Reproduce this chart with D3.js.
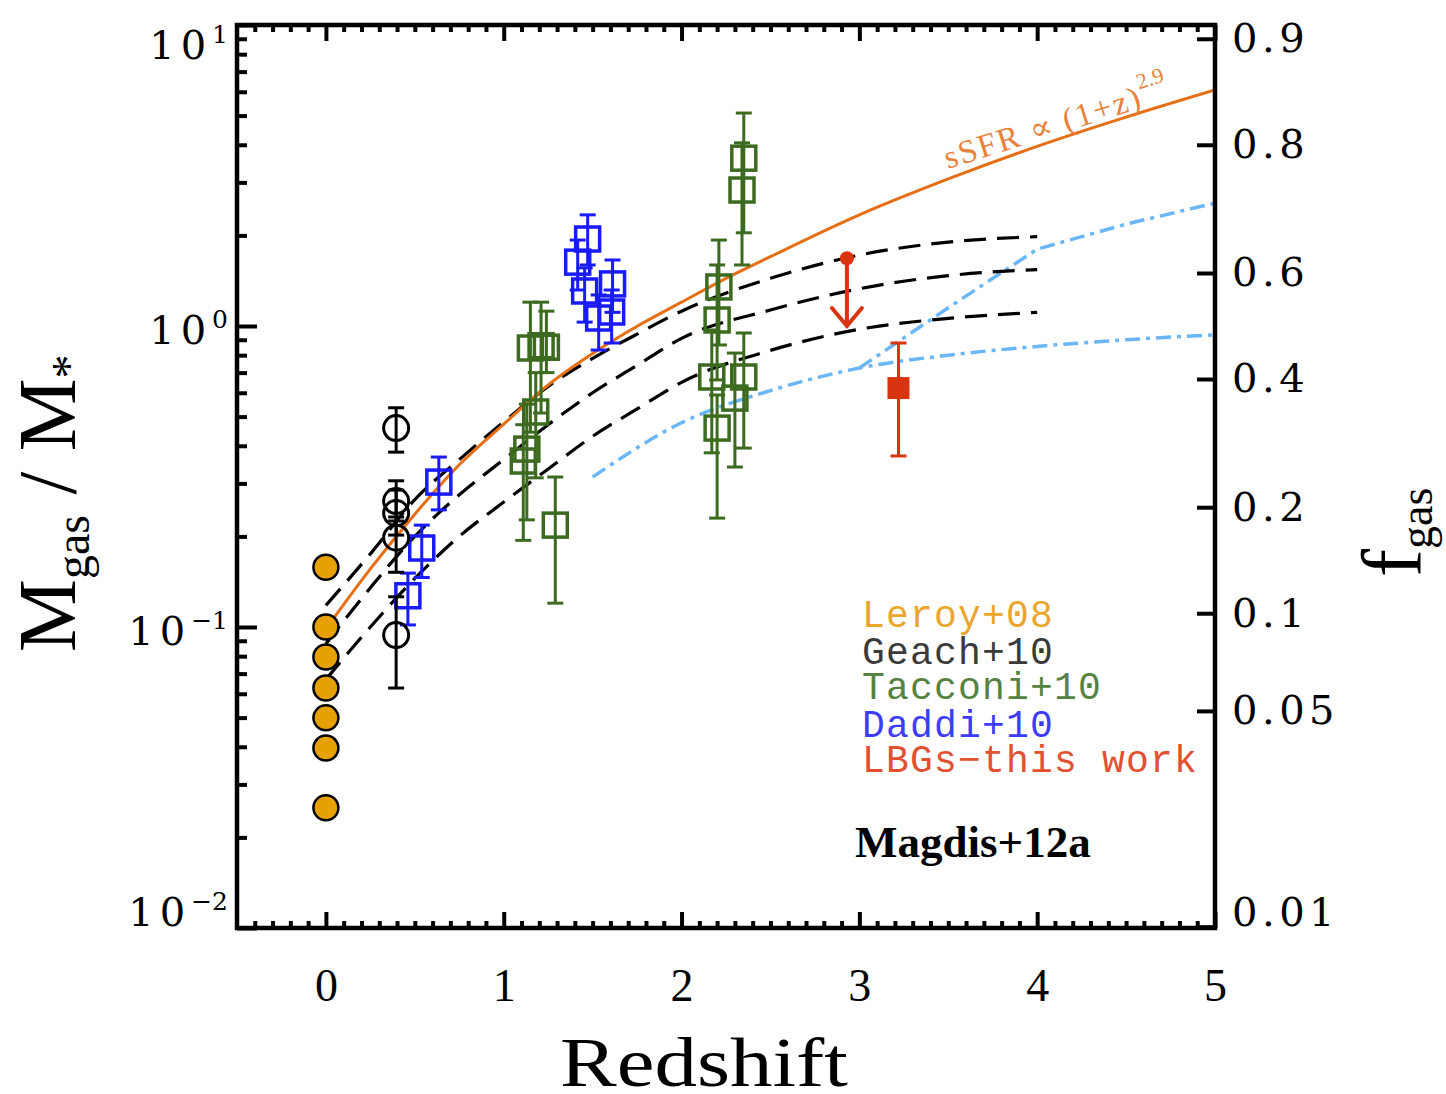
<!DOCTYPE html>
<html>
<head>
<meta charset="utf-8">
<script src="https://cdn.jsdelivr.net/npm/d3@7"></script>
<style>
  body { margin: 0; background: #fff; }
  svg { display: block; }
</style>
</head>
<body>
<svg id="chart" width="1446" height="1094"></svg>
<script>
// ---------- data: gas-to-stellar mass ratio versus redshift ----------
// Leroy+08 local galaxies
const leroyZ     = [0, 0, 0, 0, 0, 0, 0];
const leroyRatio = [0.158, 0.100, 0.0795, 0.0627, 0.0499, 0.0396, 0.0251];

// Geach+10
const geachZ     = [0.395, 0.395, 0.395, 0.395, 0.395];
const geachRatio = [0.458, 0.262, 0.239, 0.198, 0.094];
const geachLo    = [0.381, 0.225, 0.202, 0.152, 0.0627];
const geachHi    = [0.535, 0.306, 0.285, 0.232, 0.126];

// Tacconi+10
const tacconiZ     = [1.15, 1.21, 1.24, 1.18, 1.13, 1.11, 1.29, 2.35, 2.34, 2.21, 2.20, 2.17, 2.20, 2.35, 2.30];
const tacconiRatio = [0.845, 0.86, 0.85, 0.518, 0.39, 0.356, 0.218, 3.61, 2.83, 1.348, 1.047, 0.677, 0.458, 0.677, 0.576];
const tacconiLo    = [0.444, 0.514, 0.70, 0.313, 0.227, 0.194, 0.12, 2.04, 1.595, 0.865, 0.662, 0.379, 0.230, 0.393, 0.340];
const tacconiHi    = [1.20, 1.20, 1.12, 0.70, 0.55, 0.47, 0.315, 5.10, 4.06, 1.93, 1.595, 0.97, 0.59, 0.948, 0.813];

// Daddi+10
const daddiZ     = [0.635, 0.539, 0.461, 1.472, 1.416, 1.455, 1.612, 1.607, 1.534];
const daddiRatio = [0.303, 0.183, 0.127, 1.945, 1.63, 1.307, 1.38, 1.113, 1.063];
const daddiLo    = [0.245, 0.146, 0.1016, 1.595, 1.317, 1.03, 1.11, 0.878, 0.832];
const daddiHi    = [0.367, 0.218, 0.151, 2.34, 1.93, 1.56, 1.657, 1.317, 1.268];

// LBGs (this work): stacked detection and upper limit
const lbgZ     = [3.22];
const lbgRatio = [0.622];
const lbgLo    = [0.370];
const lbgHi    = [0.878];
const limitZ     = [2.93];
const limitRatio = [1.68];
const limitTo    = [1.0];

// sSFR ∝ (1+z)^2.9 track
const ssfrZ     = [0, 0.25, 0.5, 0.75, 1.0, 1.25, 1.5, 1.75, 2.0, 2.25, 2.5, 3.0, 3.5, 4.0, 4.5, 5.0];
const ssfrRatio = [0.0986, 0.156, 0.237, 0.346, 0.472, 0.637, 0.81, 0.998, 1.20, 1.44, 1.70, 2.34, 3.08, 3.95, 4.94, 6.08];

// dashed model tracks
const modelZ    = [0, 0.25, 0.5, 0.75, 1.0, 1.25, 1.5, 1.75, 2.0, 2.5, 3.0, 3.5, 4.0];
const modelHigh = [0.118, 0.175, 0.265, 0.36, 0.48, 0.63, 0.78, 0.94, 1.12, 1.44, 1.72, 1.90, 1.98];
const modelMid  = [0.088, 0.135, 0.20, 0.275, 0.36, 0.47, 0.60, 0.74, 0.91, 1.13, 1.33, 1.47, 1.54];
const modelLow  = [0.067, 0.10, 0.145, 0.20, 0.26, 0.335, 0.43, 0.53, 0.65, 0.83, 0.975, 1.06, 1.11];

// dash-dot tracks
const dotLowZ     = [1.5, 2.0, 2.5, 3.0, 3.5, 4.0, 4.5, 5.0];
const dotLowRatio = [0.315, 0.477, 0.61, 0.725, 0.80, 0.855, 0.90, 0.935];
const dotHighZ     = [3.0, 3.5, 4.0, 4.5, 5.0];
const dotHighRatio = [0.725, 1.15, 1.80, 2.18, 2.56];

// axes
const xTicks = [0, 1, 2, 3, 4, 5];
const yTickExps = [1, 0, -1, -2];
const fgasTicks  = [0.01, 0.05, 0.1, 0.2, 0.4, 0.6, 0.8, 0.9];
const fgasLabels = ["0.01", "0.05", "0.1", "0.2", "0.4", "0.6", "0.8", "0.9"];

const legendLabels = ["Leroy+08", "Geach+10", "Tacconi+10", "Daddi+10", "LBGs\u2212this work"];

// ---------- styling ----------
const C = {
  leroy: "#e6a000", leroyText: "#eaa52a",
  geach: "#000000", geachText: "#3a3a3a",
  tacconi: "#3c6b1f", tacconiText: "#55833f",
  daddi: "#1a1aff", daddiText: "#3c3cff",
  lbg: "#d8340f", lbgText: "#e2502f",
  ssfr: "#e66e14", ssfrText: "#e8823a",
  dashdot: "#6bb6f7"
};
const legendColors = [C.leroyText, C.geachText, C.tacconiText, C.daddiText, C.lbgText];
const SERIF = "'Liberation Serif','DejaVu Serif',serif";
const SERIF_WIDE = "'DejaVu Serif','Liberation Serif',serif";
const MONO = "'Liberation Mono','DejaVu Sans Mono',monospace";

const X0 = 237, X1 = 1215, Y0 = 25, Y1 = 928;
const svg = d3.select("#chart");
const x = d3.scaleLinear().domain([-0.5, 5]).range([X0, X1]);
const y = d3.scaleLog().domain([0.01, 10]).range([Y1, Y0]);

const zip = (zs, vs) => zs.map((z, i) => [z, vs[i]]);
const line = curve => d3.line().x(d => x(d[0])).y(d => y(d[1])).curve(curve);

// ---------- tracks ----------
const plot = svg.append("g");
plot.append("clipPath").attr("id", "clip").append("rect")
  .attr("x", X0).attr("y", Y0).attr("width", X1 - X0).attr("height", Y1 - Y0);
const tracks = plot.append("g").attr("clip-path", "url(#clip)");

tracks.append("path").datum(zip(dotLowZ, dotLowRatio))
  .attr("d", line(d3.curveMonotoneX)).attr("fill", "none")
  .attr("stroke", C.dashdot).attr("stroke-width", 3.5).attr("stroke-dasharray", "15,6,4,6");
tracks.append("path").datum(zip(dotHighZ, dotHighRatio))
  .attr("d", line(d3.curveLinear)).attr("fill", "none")
  .attr("stroke", C.dashdot).attr("stroke-width", 3.5).attr("stroke-dasharray", "15,6,4,6");

[modelHigh, modelMid, modelLow].forEach(vals => {
  tracks.append("path").datum(zip(modelZ, vals))
    .attr("d", line(d3.curveMonotoneX)).attr("fill", "none")
    .attr("stroke", "#000").attr("stroke-width", 3.2).attr("stroke-dasharray", "22,11");
});

tracks.append("path").datum(zip(ssfrZ, ssfrRatio))
  .attr("d", line(d3.curveMonotoneX)).attr("fill", "none")
  .attr("stroke", C.ssfr).attr("stroke-width", 3);

// curve annotation
const ann = svg.append("text")
  .attr("transform", "translate(948,169) rotate(-17.6)")
  .attr("font-family", SERIF).attr("fill", C.ssfrText);
ann.append("tspan").attr("font-size", 33).attr("letter-spacing", 2).text("sSFR \u221D (1+z)");
ann.append("tspan").attr("font-size", 22).attr("dy", -18).text("2.9");

// ---------- data points ----------
const pts = svg.append("g");

function errorBars(zs, vs, los, his, color, width) {
  const g = pts.append("g").attr("stroke", color).attr("stroke-width", width).attr("fill", "none");
  zs.forEach((z, i) => {
    const cx = x(z);
    g.append("line").attr("x1", cx).attr("x2", cx).attr("y1", y(los[i])).attr("y2", y(his[i]));
    [los[i], his[i]].forEach(v => {
      g.append("line").attr("x1", cx - 8).attr("x2", cx + 8).attr("y1", y(v)).attr("y2", y(v));
    });
  });
}
function openSquares(zs, vs, color) {
  pts.append("g").selectAll("rect").data(zs).join("rect")
    .attr("x", (z) => x(z) - 12).attr("y", (z, i) => y(vs[i]) - 12)
    .attr("width", 24).attr("height", 24)
    .attr("fill", "none").attr("stroke", color).attr("stroke-width", 3.5);
}

// Tacconi+10
errorBars(tacconiZ, tacconiRatio, tacconiLo, tacconiHi, C.tacconi, 3);
openSquares(tacconiZ, tacconiRatio, C.tacconi);

// Daddi+10
errorBars(daddiZ, daddiRatio, daddiLo, daddiHi, C.daddi, 3);
openSquares(daddiZ, daddiRatio, C.daddi);

// Geach+10
errorBars(geachZ, geachRatio, geachLo, geachHi, C.geach, 3);
pts.append("g").selectAll("circle").data(geachZ).join("circle")
  .attr("cx", z => x(z)).attr("cy", (z, i) => y(geachRatio[i])).attr("r", 12.5)
  .attr("fill", "none").attr("stroke", C.geach).attr("stroke-width", 3);

// Leroy+08
pts.append("g").selectAll("circle").data(leroyZ).join("circle")
  .attr("cx", z => x(z)).attr("cy", (z, i) => y(leroyRatio[i])).attr("r", 12.5)
  .attr("fill", C.leroy).attr("stroke", "#000").attr("stroke-width", 2.5);

// LBGs
errorBars(lbgZ, lbgRatio, lbgLo, lbgHi, C.lbg, 3);
pts.append("g").selectAll("rect").data(lbgZ).join("rect")
  .attr("x", z => x(z) - 11).attr("y", (z, i) => y(lbgRatio[i]) - 11)
  .attr("width", 22).attr("height", 22).attr("fill", C.lbg);

const lim = pts.append("g").attr("stroke", C.lbg).attr("stroke-width", 4).attr("fill", "none")
  .attr("stroke-linecap", "round");
limitZ.forEach((z, i) => {
  const cx = x(z), top = y(limitRatio[i]), tip = y(limitTo[i]);
  lim.append("line").attr("x1", cx).attr("x2", cx).attr("y1", top).attr("y2", tip);
  lim.append("path").attr("d", `M${cx - 15},${tip - 18} L${cx},${tip} L${cx + 15},${tip - 18}`);
  pts.append("circle").attr("cx", cx).attr("cy", top).attr("r", 7).attr("fill", C.lbg);
});

// ---------- axes ----------
function styleAxis(g) {
  g.select(".domain").remove();
  g.selectAll(".tick line").attr("stroke", "#000").attr("stroke-width", 4);
}

// bottom
const xMinor = d3.range(-4, 51).filter(i => i % 10 !== 0).map(i => i / 10);
svg.append("g").attr("transform", `translate(0,${Y1})`)
  .call(d3.axisBottom(x).tickValues(xTicks).tickSizeInner(-16).tickSizeOuter(0).tickPadding(40).tickFormat(d3.format("d")))
  .call(styleAxis)
  .call(g => g.selectAll("text").attr("font-family", SERIF).attr("font-size", 46).attr("fill", "#000"));
svg.append("g").attr("transform", `translate(0,${Y1})`)
  .call(d3.axisBottom(x).tickValues(xMinor).tickSizeInner(-7).tickSizeOuter(0).tickFormat(""))
  .call(styleAxis);
// top
svg.append("g").attr("transform", `translate(0,${Y0})`)
  .call(d3.axisTop(x).tickValues(xTicks).tickSizeInner(-16).tickSizeOuter(0).tickFormat(""))
  .call(styleAxis);
svg.append("g").attr("transform", `translate(0,${Y0})`)
  .call(d3.axisTop(x).tickValues(xMinor).tickSizeInner(-7).tickSizeOuter(0).tickFormat(""))
  .call(styleAxis);

// left (log)
const yMajor = yTickExps.map(e => Math.pow(10, e));
const yMinor = [];
[-2, -1, 0].forEach(e => { for (let k = 2; k <= 9; k++) yMinor.push(k * Math.pow(10, e)); });
svg.append("g").attr("transform", `translate(${X0},0)`)
  .call(d3.axisLeft(y).tickValues(yMajor).tickSizeInner(-20).tickSizeOuter(0).tickFormat(""))
  .call(styleAxis);
svg.append("g").attr("transform", `translate(${X0},0)`)
  .call(d3.axisLeft(y).tickValues(yMinor).tickSizeInner(-10).tickSizeOuter(0).tickFormat(""))
  .call(styleAxis);

const yLab = svg.append("g").attr("font-family", SERIF_WIDE).attr("fill", "#000").attr("text-anchor", "end");
yTickExps.forEach(e => {
  const cy = Math.max(Y0 + 20, Math.min(Y1 - 16, y(Math.pow(10, e)) + 4));
  const t = yLab.append("text").attr("x", 228).attr("y", cy + 14);
  t.append("tspan").attr("font-size", 40).attr("letter-spacing", 6).text("10");
  t.append("tspan").attr("font-size", 25).attr("dy", -16).text(e < 0 ? "\u2212" + (-e) : String(e));
});

// right (gas fraction)
svg.append("g").attr("transform", `translate(${X1},0)`)
  .call(d3.axisRight(y).tickValues(fgasTicks.map(f => f / (1 - f)))
    .tickSizeInner(-18).tickSizeOuter(0).tickPadding(17).tickFormat((d, i) => fgasLabels[i]))
  .call(styleAxis)
  .call(g => g.selectAll("text")
    .attr("font-family", SERIF_WIDE).attr("font-size", 40).attr("letter-spacing", 4.5).attr("fill", "#000")
    .attr("y", d => Math.min(0, (Y1 - 15) - y(d))));

// frame
svg.append("rect").attr("x", X0).attr("y", Y0).attr("width", X1 - X0).attr("height", Y1 - Y0)
  .attr("fill", "none").attr("stroke", "#000").attr("stroke-width", 4.5);

// axis titles
svg.append("text").attr("x", 704).attr("y", 1086).attr("text-anchor", "middle")
  .attr("font-family", SERIF).attr("font-size", 70)
  .attr("textLength", 288).attr("lengthAdjust", "spacingAndGlyphs").text("Redshift");

const yTitle = svg.append("text").attr("transform", "translate(75,652) rotate(-90)")
  .attr("font-family", SERIF).attr("fill", "#000");
yTitle.append("tspan").attr("font-size", 82).text("M");
yTitle.append("tspan").attr("font-size", 48).attr("dy", 14).text("gas");
yTitle.append("tspan").attr("font-size", 82).attr("dy", -14).text("\u00A0/\u00A0M");
yTitle.append("tspan").attr("font-size", 48).attr("dy", 10).text("*");

const fTitle = svg.append("text").attr("transform", "translate(1420,577) rotate(-90)")
  .attr("font-family", SERIF).attr("fill", "#000");
fTitle.append("tspan").attr("font-size", 84).text("f");
fTitle.append("tspan").attr("font-size", 46).attr("dy", 12).text("gas");

// legend
const leg = svg.append("g").attr("font-family", MONO).attr("font-size", 38).attr("letter-spacing", 1.2);
legendLabels.forEach((lab, i) => {
  leg.append("text").attr("x", 862).attr("y", [627, 664, 699, 737, 772][i])
    .attr("fill", legendColors[i]).text(lab);
});
svg.append("text").attr("x", 855).attr("y", 857)
  .attr("font-family", SERIF).attr("font-weight", "bold").attr("font-size", 45)
  .attr("fill", "#000").text("Magdis+12a");
</script>
</body>
</html>
